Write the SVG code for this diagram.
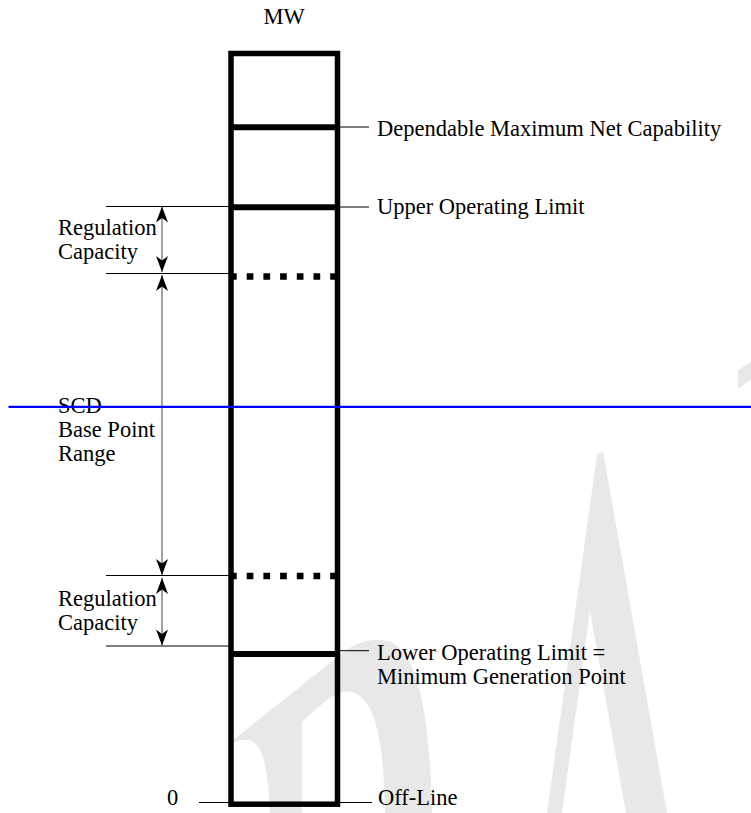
<svg xmlns="http://www.w3.org/2000/svg" width="751" height="813" viewBox="0 0 751 813">
<style>
  text { font-family: "Liberation Serif", "Times New Roman", serif; font-size: 22.5px; fill: #000; }
  .wm { fill: #e8e8e8; stroke: none; }
  .thin { stroke: #000; stroke-width: 1; fill: none; }
  .thick { stroke: #000; stroke-width: 6; fill: none; }
  .dash { stroke: #000; stroke-width: 6.5; stroke-dasharray: 6.7 10; fill: none; }
  .dim { stroke: #444; stroke-width: 1; fill: none; marker-start: url(#ah); marker-end: url(#ah); }
</style>
<defs>
  <marker id="ah" markerUnits="userSpaceOnUse" markerWidth="17" markerHeight="13" refX="16" refY="6.5" orient="auto-start-reverse" viewBox="0 0 17 13">
    <path d="M16,6.5 L0,0.5 L4.5,6.5 L0,12.5 Z" fill="#000"/>
  </marker>
</defs>

<g id="watermark">
  <path class="wm" d="M228,744 L345,651 C358,641 372,638 388,641 C418,650 430,715 432,813 L385,813 C384,760 380,700 352,692 C340,689 328,697 302,722 L302,813 L270,813 C268,775 265,748 252,741 C245,738 238,741 228,744 Z"/>
  <path class="wm" d="M597,455 L603,451.5 L667,813 L626,813 L590,611 L562,813 L547,813 Z"/>
  <path class="wm" d="M738,370 L751,362 L751,379 L738,389 Z"/>
</g>

<g id="mw-label"><text x="284" y="24" text-anchor="middle">MW</text></g>

<g id="unit-column">
  <rect x="231" y="53.5" width="106.5" height="750.7" fill="none" stroke="#000" stroke-width="5.5"/>
</g>

<g id="dependable-max">
  <line class="thick" x1="231" y1="127.3" x2="337.5" y2="127.3"/>
  <text x="377" y="136">Dependable Maximum Net Capability</text>
</g>

<g id="upper-limit">
  <line class="thick" x1="231" y1="207.3" x2="337.5" y2="207.3"/>
  <text x="377" y="214">Upper Operating Limit</text>
</g>

<g id="upper-regulation-bound">
  <line class="dash" x1="230" y1="276.5" x2="337.5" y2="276.5"/>
</g>

<g id="lower-regulation-bound">
  <line class="dash" x1="230" y1="576" x2="337.5" y2="576"/>
</g>

<g id="lower-limit">
  <line class="thick" x1="231" y1="654" x2="337.5" y2="654"/>
  <text x="377" y="660">Lower Operating Limit =</text>
  <text x="377" y="683.5">Minimum Generation Point</text>
</g>

<g id="off-line">
  <text x="378" y="805">Off-Line</text>
  <text x="167" y="805">0</text>
</g>

<g id="regulation-capacity-upper">
  <text x="58" y="235">Regulation</text>
  <text x="58" y="259">Capacity</text>
</g>

<g id="scd-range">
  <text x="58" y="413">SCD</text>
  <text x="58" y="437">Base Point</text>
  <text x="58" y="461">Range</text>
</g>

<g id="regulation-capacity-lower">
  <text x="58" y="606">Regulation</text>
  <text x="58" y="629.5">Capacity</text>
</g>

<g id="connectors">
  <line class="thin" x1="340" y1="127" x2="369" y2="127"/>
  <line class="thin" x1="340" y1="207" x2="369" y2="207"/>
  <line class="thin" x1="340" y1="650.7" x2="369" y2="650.7"/>
  <line class="thin" x1="340" y1="802.5" x2="372" y2="802.5"/>
  <line class="thin" x1="199" y1="802.5" x2="229" y2="802.5"/>
  <line class="thin" x1="106" y1="206.5" x2="229" y2="206.5"/>
  <line class="thin" x1="106" y1="273.5" x2="229" y2="273.5"/>
  <line class="thin" x1="106" y1="575.5" x2="229" y2="575.5"/>
  <line class="thin" x1="106" y1="646" x2="229" y2="646"/>
  <line class="dim" x1="162" y1="206.5" x2="162" y2="272"/>
  <line class="dim" x1="162" y1="275" x2="162" y2="575"/>
  <line class="dim" x1="162" y1="578" x2="162" y2="645.5"/>
</g>

<g id="blue-line">
  <line x1="8.5" y1="406.8" x2="751" y2="406.8" stroke="#0000ff" stroke-width="2.3"/>
</g>
</svg>
